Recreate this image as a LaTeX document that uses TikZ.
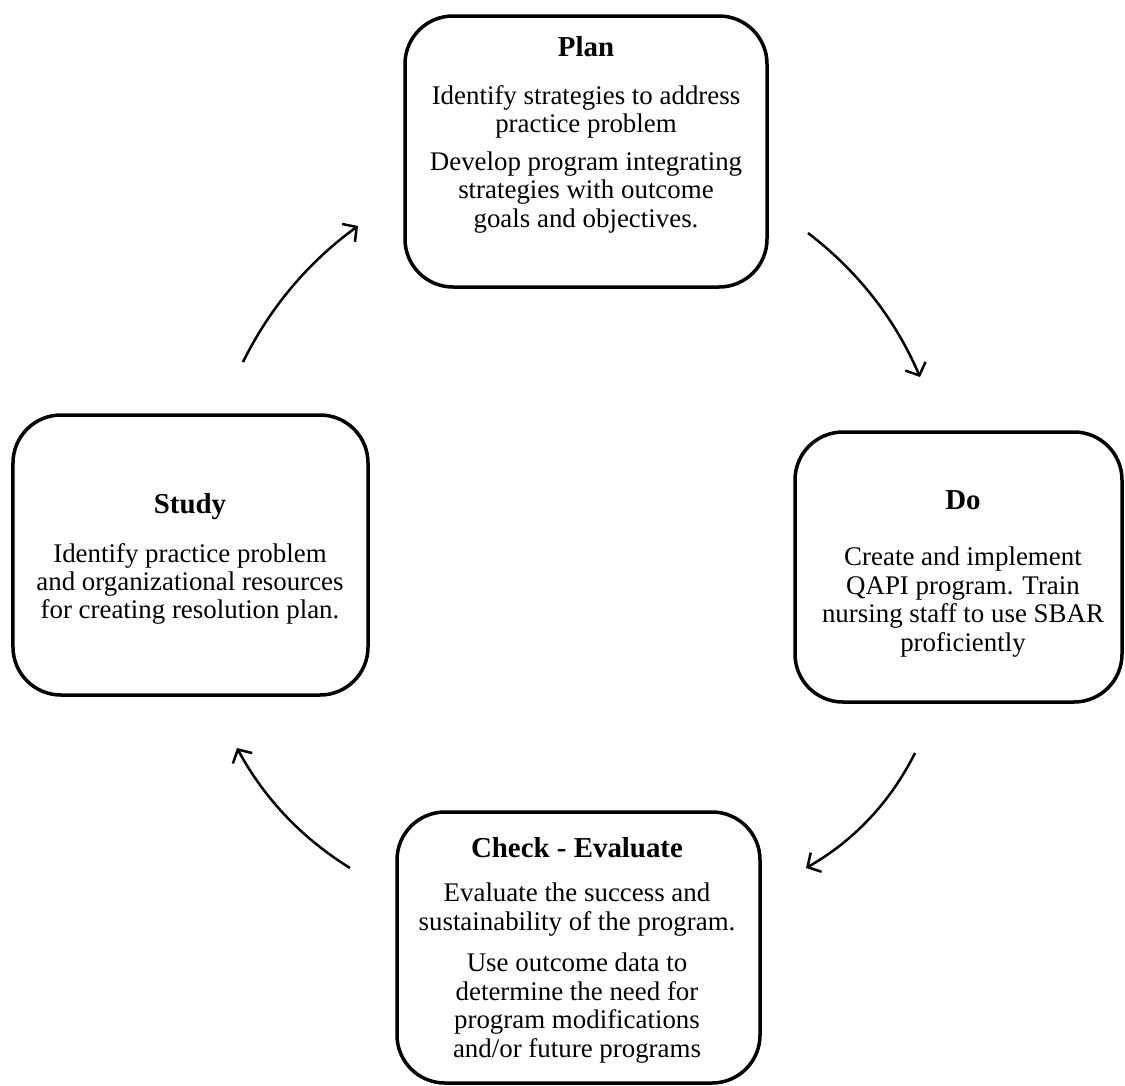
\documentclass[tikz,border=0pt]{standalone}
\usepackage{fontspec}
\setmainfont{Liberation Serif}
\usetikzlibrary{arrows.meta}
\begin{document}
\begin{tikzpicture}[x=1bp,y=-1bp,
  box/.style={draw=black, line width=3.5bp, rounded corners=48bp, inner sep=0pt},
  ttl/.style={font=\fontsize{29}{31}\selectfont\bfseries, inner sep=0pt},
  body/.style={font=\fontsize{27}{28.5}\selectfont, align=center, inner sep=0pt},
  cyc/.style={line width=2.5bp, -{Straight Barb[length=10bp,width=22bp,line width=2.5bp]}}]
\useasboundingbox (0,0) rectangle (1125,1086);
% boxes
\node[box, minimum width=362bp, minimum height=271bp] (plan) at (586,151.5) {};
\node[box, minimum width=327bp, minimum height=270bp] (do) at (958.5,567) {};
\node[box, minimum width=355bp, minimum height=280bp] (study) at (190.5,555) {};
\node[box, minimum width=363bp, minimum height=271bp] (check) at (578.5,947.5) {};
% texts
\node[ttl] (plant) at (586,47) {Plan};
\node[body] (planb) at (586,159) {Identify strategies to address\\practice problem\\[9.5bp]Develop program integrating\\strategies with outcome\\goals and objectives.};
\node[ttl] (dot) at (963,500) {Do};
\node[body] (dob) at (963,602) {Create and implement\\QAPI program. Train\\nursing staff to use SBAR\\proficiently};
\node[ttl] (studyt) at (190,507) {Study};
\node[body] (studyb) at (190,584) {Identify practice problem\\and organizational resources\\for creating resolution plan.};
\node[ttl] (checkt) at (577,848) {Check - Evaluate};
\node[body] (checkb) at (577,973) {Evaluate the success and\\sustainability of the program.\\[13.5bp]Use outcome data to\\determine the need for\\program modifications\\and/or future programs};
% arrow ends
\coordinate (a1s) at (808,233); \coordinate (a1e) at (920,377);
\coordinate (a2s) at (915,753); \coordinate (a2e) at (806,868);
\coordinate (a3s) at (350,868); \coordinate (a3e) at (237,748);
\coordinate (a4s) at (243,362); \coordinate (a4e) at (358,226);
\draw[cyc] (a1s) .. controls (857.9,271.2) and (895.3,319.2) .. (a1e);
\draw[cyc] (a2s) .. controls (890.3,802.3) and (853.9,840.7) .. (a2e);
\draw[cyc] (a3s) .. controls (301.7,838.1) and (264,798.1) .. (a3e);
\draw[cyc] (a4s) .. controls (270.1,307.2) and (308.5,261.9) .. (a4e);
\end{tikzpicture}
\end{document}
